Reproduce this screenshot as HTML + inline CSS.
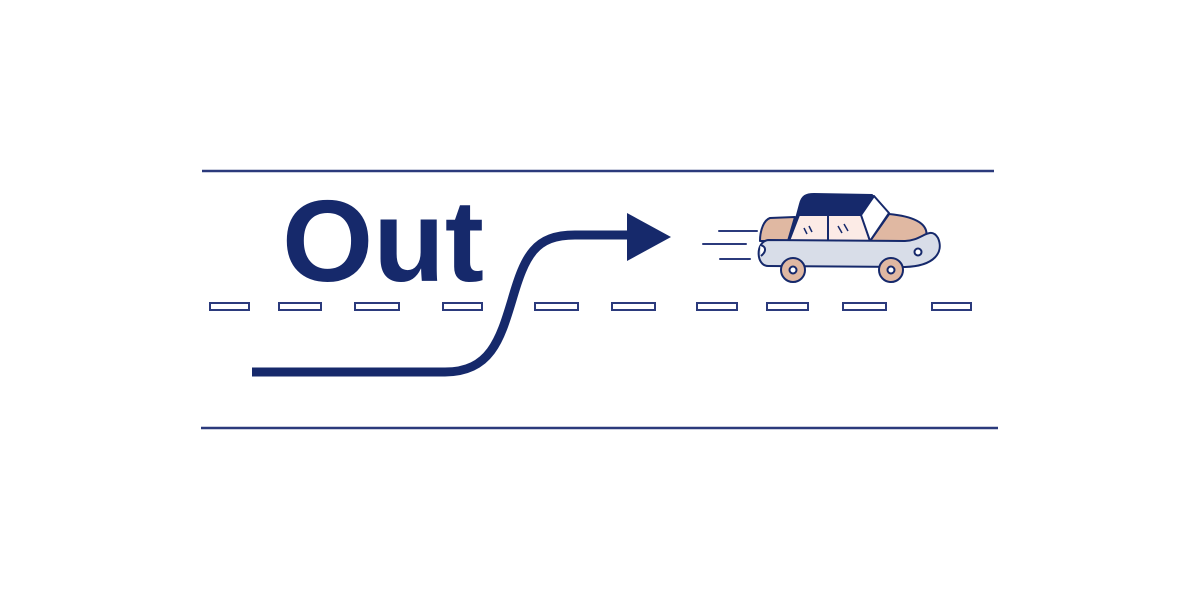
<!DOCTYPE html>
<html><head><style>html,body{margin:0;padding:0;background:#fff}</style></head><body>
<svg width="1200" height="600" viewBox="0 0 1200 600" xmlns="http://www.w3.org/2000/svg">
<rect width="1200" height="600" fill="#fff"/>
<line x1="202" y1="171" x2="994" y2="171" stroke="#2b3a7c" stroke-width="2.5"/>
<line x1="201" y1="428" x2="998" y2="428" stroke="#2b3a7c" stroke-width="2.5"/>
<g fill="#fff" stroke="#2b3a7c" stroke-width="2">
<rect x="210" y="303" width="39" height="7"/>
<rect x="279" y="303" width="42" height="7"/>
<rect x="355" y="303" width="44" height="7"/>
<rect x="443" y="303" width="39" height="7"/>
<rect x="535" y="303" width="43" height="7"/>
<rect x="612" y="303" width="43" height="7"/>
<rect x="697" y="303" width="40" height="7"/>
<rect x="767" y="303" width="41" height="7"/>
<rect x="843" y="303" width="43" height="7"/>
<rect x="932" y="303" width="39" height="7"/>
</g>
<text x="282" y="281" font-family="Liberation Sans, sans-serif" font-weight="bold" font-size="116" fill="#16296b" textLength="202" lengthAdjust="spacingAndGlyphs">Out</text>
<path d="M252 372 L445 372 C490 372 500 340 512 300 C525 255 535 235 575 235 L630 235" fill="none" stroke="#16296b" stroke-width="9"/>
<polygon points="627,213 671,237 627,261" fill="#16296b"/>
<g stroke="#2b3a7c" stroke-width="2" stroke-linecap="round">
<line x1="719" y1="231" x2="757" y2="231"/>
<line x1="703" y1="244" x2="746" y2="244"/>
<line x1="720" y1="259" x2="750" y2="259"/>
</g>
<g stroke="#16296b" stroke-width="2" stroke-linejoin="round">
<path d="M770 218 L795 217 L788 241 L760 241 C760 230 764 220 770 218 Z" fill="#e0b8a2"/>
<path d="M870 241 L889 214 C910 216 930 222 926 238 L920 246 Z" fill="#e0b8a2"/>
<path d="M790 241 L800 204 C802 196 806 194 814 194 L872 195 L889 214 L870 241 Z" fill="#16296b"/>
<path d="M799 215 L862 215 L870 241 L789 241 Z" fill="#fcebe6"/>
<line x1="828" y1="215" x2="828" y2="241"/>
<path d="M874 196 L889 213 L870 241 L861 215 Z" fill="#fff"/>
<path d="M768 240 L905 241 C922 241 930 225 938 238 C944 252 935 266 905 267 L768 266 C756 266 755 242 768 240 Z" fill="#d8dde8"/>
<path d="M760 245 C766 246 767 251 761 256" fill="#fff"/>
<circle cx="918" cy="252" r="3.5" fill="#fff"/>
<circle cx="793" cy="270" r="12" fill="#e0b8a2"/>
<circle cx="793" cy="270" r="3.5" fill="#fff"/>
<circle cx="891" cy="270" r="12" fill="#e0b8a2"/>
<circle cx="891" cy="270" r="3.5" fill="#fff"/>
</g>
<g stroke="#16296b" stroke-width="1.5">
<line x1="804" y1="228" x2="807" y2="234"/><line x1="809" y1="226" x2="812" y2="232"/>
<line x1="838" y1="226" x2="842" y2="233"/><line x1="844" y1="224" x2="848" y2="231"/>
</g>
</svg>
</body></html>
